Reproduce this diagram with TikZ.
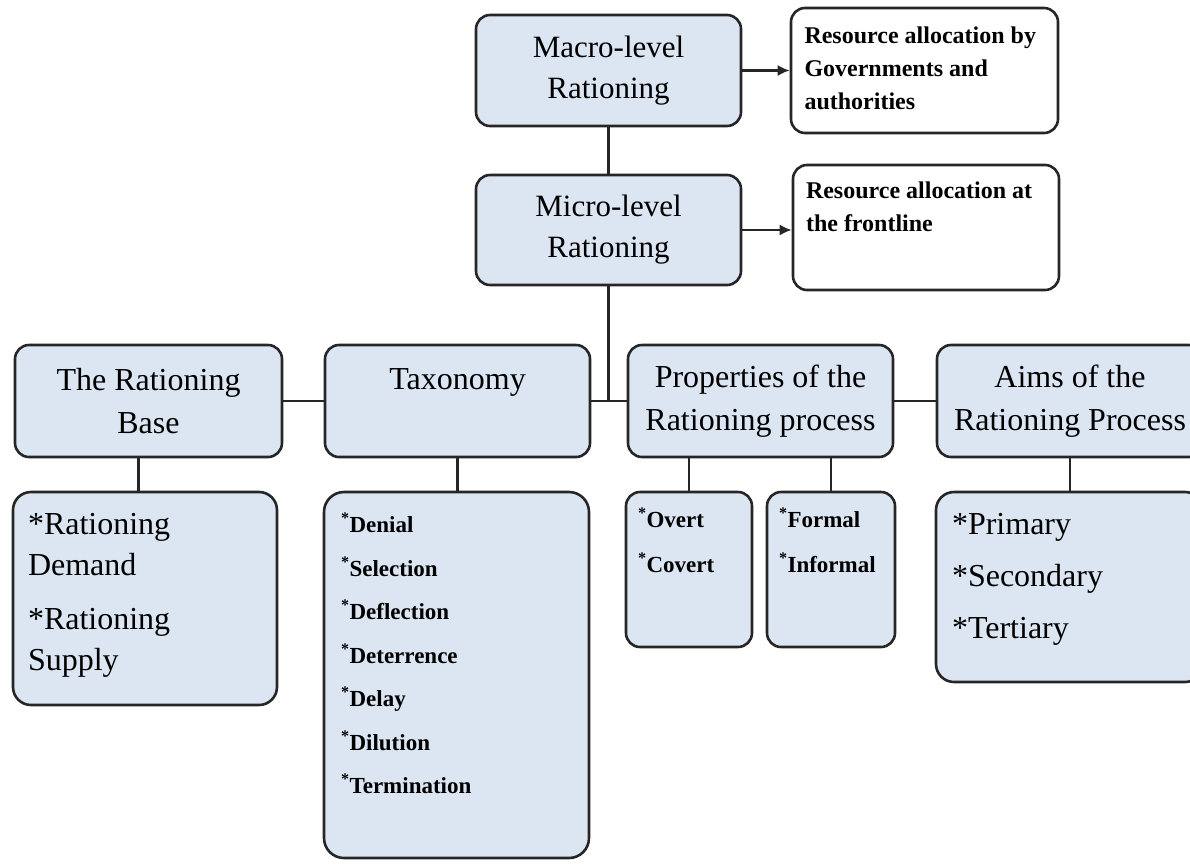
\documentclass[tikz,border=0pt]{standalone}
\usepackage{fontspec}
\setmainfont{Liberation Serif}
\usetikzlibrary{arrows.meta}
\definecolor{boxblue}{RGB}{220,230,243}
\newcommand{\topbox}[3]{\parbox[c][#2][t]{#1}{\raggedright #3}}

\begin{document}
\begin{tikzpicture}[x=1pt, y=-1pt,
    box/.style={draw=black!85, line width=2.6pt, rounded corners=14pt, fill=boxblue, inner sep=0pt, align=center, font=\fontsize{32}{43}\selectfont},
    notebox/.style={box, fill=white, font=\bfseries\fontsize{24}{33}\selectfont},
    link/.style={draw=black!85, line width=2.6pt},
    arr/.style={draw=black!85, line width=2.2pt, -{Latex[length=12pt,width=11pt]}}]
                \useasboundingbox (0,0) rectangle (1190,863);

                % Top levels
                \node[box, minimum width=265, minimum height=111, font=\fontsize{31}{41}\selectfont] (macro) at (608.5,70.5) {Macro-level\\Rationing};
                \node[box, minimum width=265, minimum height=110, font=\fontsize{31}{41}\selectfont] (micro) at (608.5,230) {Micro-level\\Rationing};
                \node[notebox, minimum width=267, minimum height=125] (govt) at (924.5,70.5) {\topbox{240pt}{87pt}{Resource allocation by\\Governments and\\authorities}};
                \node[notebox, minimum width=266, minimum height=125] (front) at (926,227.5) {\topbox{240pt}{91pt}{Resource allocation at\\the frontline}};

                % Second row
                \node[box, minimum width=267, minimum height=112] (base) at (148.5,401) {The Rationing\\Base};
                \node[box, minimum width=265, minimum height=112] (tax) at (457.5,401) {Taxonomy\\\phantom{T}};
                \node[box, minimum width=265, minimum height=112] (prop) at (760.5,401) {Properties of the\\Rationing process};
                \node[box, minimum width=266, minimum height=112] (aims) at (1070,401) {Aims of the\\Rationing Process};

                % Third row
                \node[box, minimum width=264, minimum height=213, rounded corners=18pt, font=\fontsize{32}{41}\selectfont] (basechild) at (145,598.5)
                    {\topbox{234pt}{171pt}{{*}Rationing\\Demand\par\vspace{13pt}{*}Rationing\\Supply}};
                \node[box, minimum width=265, minimum height=366, rounded corners=20pt, font=\bfseries\fontsize{23}{43.5}\selectfont] (taxchild) at (456.5,675)
                    {\topbox{231pt}{324pt}{\textsuperscript{*}Denial\\\textsuperscript{*}Selection\\\textsuperscript{*}Deflection\\\textsuperscript{*}Deterrence\\\textsuperscript{*}Delay\\\textsuperscript{*}Dilution\\\textsuperscript{*}Termination}};
                \node[box, minimum width=126, minimum height=155, font=\bfseries\fontsize{23}{45}\selectfont] (overt) at (689,569.5)
                    {\topbox{102pt}{123pt}{\textsuperscript{*}Overt\\\textsuperscript{*}Covert}};
                \node[box, minimum width=128, minimum height=155, font=\bfseries\fontsize{23}{45}\selectfont] (formal) at (831,569.5)
                    {\topbox{104pt}{123pt}{\textsuperscript{*}Formal\\\textsuperscript{*}Informal}};
                \node[box, minimum width=267, minimum height=190, rounded corners=18pt, font=\fontsize{32}{52}\selectfont] (aimschild) at (1069.5,587)
                    {\topbox{235pt}{148pt}{{*}Primary\\{*}Secondary\\{*}Tertiary}};

                % Connectors
                \draw[link] (macro.south) -- (micro.north);
                \draw[arr] (macro.east) -- (govt.west);
                \draw[arr] (micro.east) -- (micro.east -| front.west);
                \draw[link] (micro.south) -- (micro.south |- tax.east);
                \draw[link] (base.east) -- (tax.west);
                \draw[link] (tax.east) -- (prop.west);
                \draw[link] (prop.east) -- (aims.west);
                \draw[link] ([xshift=-10pt]base.south) -- ([xshift=-10pt]base.south |- basechild.north);
                \draw[link] (tax.south) -- (tax.south |- taxchild.north);
                \draw[link] (overt.north |- prop.south) -- (overt.north);
                \draw[link] (formal.north |- prop.south) -- (formal.north);
                \draw[link] (aims.south) -- (aims.south |- aimschild.north);
            \end{tikzpicture}
\end{document}
